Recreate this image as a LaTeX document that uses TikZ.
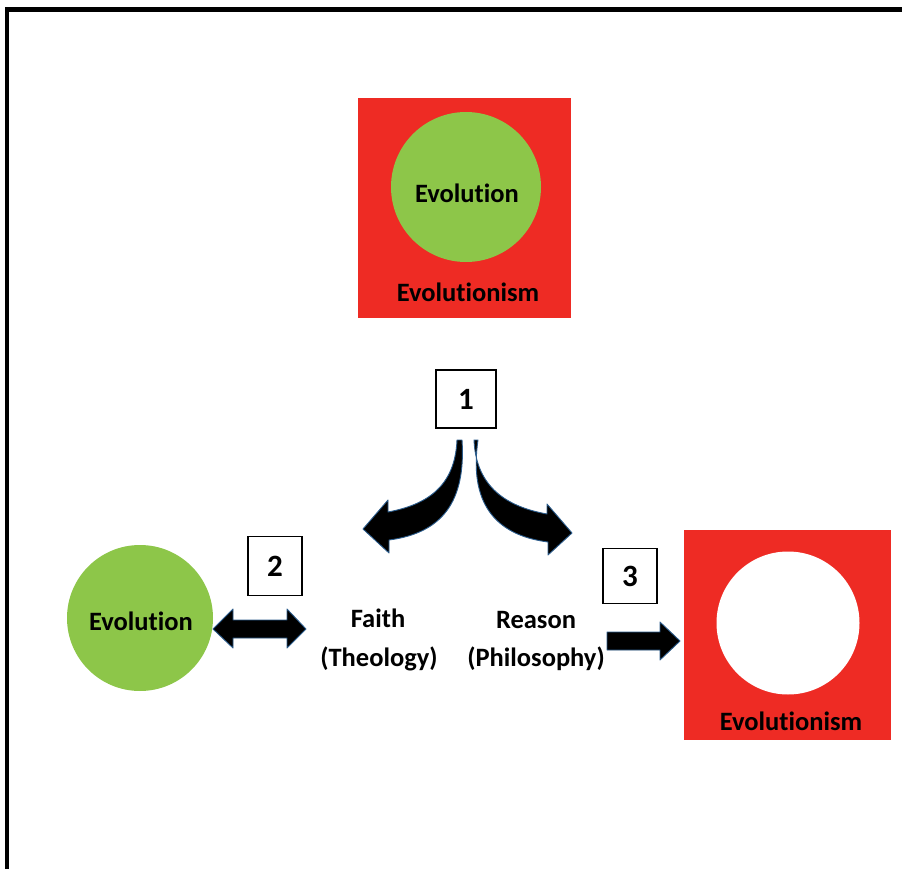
\documentclass[tikz,border=0pt]{standalone}
\usepackage{fontspec}
\setmainfont[Ligatures=NoCommon]{Carlito}
\definecolor{boxred}{HTML}{EE2B24}
\definecolor{evgreen}{HTML}{8DC649}
\definecolor{glow}{HTML}{2B5C8C}
\begin{document}
\begin{tikzpicture}[x=1pt,y=-1pt,
  lbl/.style={inner sep=0pt, font=\fontsize{26.5}{30}\selectfont\bfseries},
  numbox/.style={draw=black, line width=1.2pt, fill=white, inner sep=0pt, font=\fontsize{31}{34}\selectfont\bfseries},
  redsq/.style={fill=boxred, draw=none},
  blockarrow/.style={fill=black, draw=glow, line width=0.9pt, line join=round}
]
\useasboundingbox (0,0) rectangle (902,869);
\fill[white] (0,0) rectangle (902,869);
% frame
\draw[line width=4.5pt] (7,871) -- (7,9.5) -- (904,9.5);

% top group
\fill[redsq] (358,98) rectangle (571,318);
\node[circle, fill=evgreen, minimum size=150pt, inner sep=0pt] (topcirc) at (466,187) {};
\node[lbl] (toptext) at (467,193) {Evolution};
\node[lbl] (topism) at (468,292) {Evolutionism};

% box 1
\node[numbox, minimum width=60pt, minimum height=58pt] (b1) at (466,399) {1};

% curved arrows
\draw[blockarrow] (457,440) .. controls (455,488) and (425,505) .. (388,512)
  -- (388,500) -- (363,529) -- (389,553) -- (389,540)
  .. controls (442,533) and (466,502) .. (462,440) -- cycle;
\draw[blockarrow] (474,440) .. controls (476,488) and (508,507) .. (547,514)
  -- (547,504) -- (572,533) -- (548,555) -- (548,542)
  .. controls (494,535) and (469,502) .. (478,440) -- cycle;

% left group
\node[circle, fill=evgreen, minimum size=146pt, inner sep=0pt] (leftcirc) at (140,618) {};
\node[lbl] (lefttext) at (141,621) {Evolution};
\node[numbox, minimum width=54pt, minimum height=59pt] (b2) at (275,566) {2};
\draw[blockarrow] (213,629) -- (233,609) -- (233,620) -- (287,620) -- (287,609)
  -- (306,629) -- (287,648) -- (287,638) -- (233,638) -- (233,648) -- cycle;

% middle texts
\node[lbl] (faith) at (378,618) {Faith};
\node[lbl] (theo) at (379,659) {(Theology)};
\node[lbl] (reason) at (536,620) {Reason};
\node[lbl] (phil) at (536,659) {(Philosophy)};

% box 3 and arrow
\node[numbox, minimum width=54pt, minimum height=55pt] (b3) at (630,576) {3};
\draw[blockarrow] (607,632) -- (660,632) -- (660,622) -- (680,641) -- (660,660)
  -- (660,650) -- (607,650) -- cycle;

% right group
\fill[redsq] (684,530) rectangle (891,740);
\node[circle, fill=white, minimum size=143pt, inner sep=0pt] (rightcirc) at (788,623) {};
\node[lbl] (rightism) at (791,721) {Evolutionism};
\end{tikzpicture}
\end{document}
